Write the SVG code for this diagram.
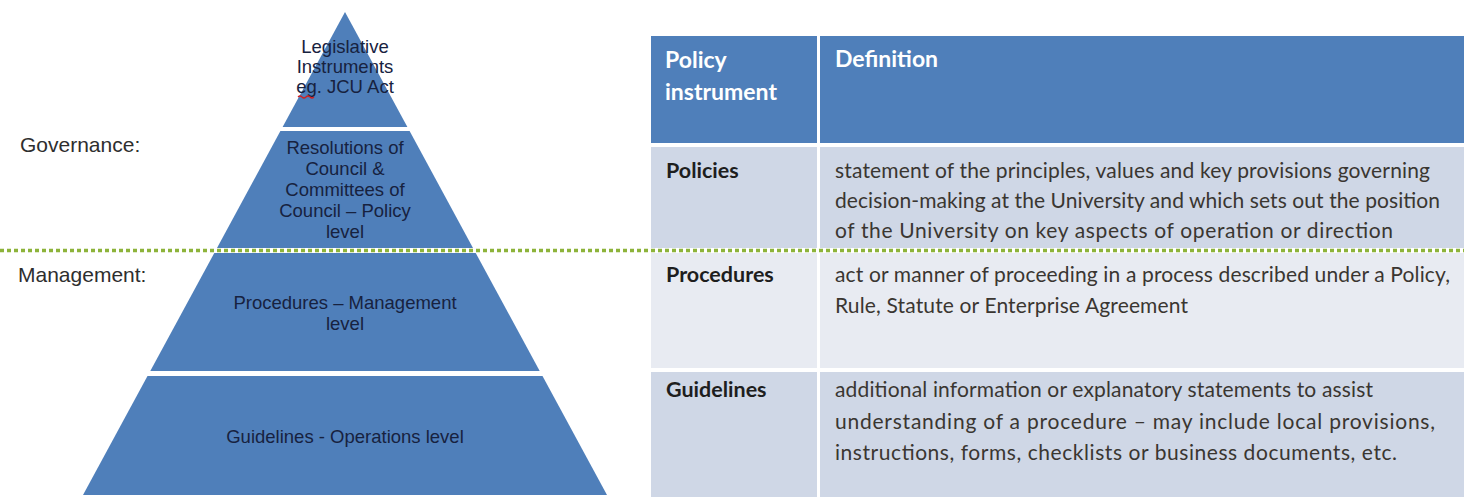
<svg xmlns="http://www.w3.org/2000/svg" width="1464" height="497" viewBox="0 0 1464 497">
<style>
.pyr{fill:#4F7FBA}
.pt{font-family:"Liberation Sans",Arial,sans-serif;font-size:18.5px;fill:#17223F;text-anchor:middle}
.lbl{font-family:"Liberation Sans",Arial,sans-serif;font-size:21px;fill:#2E2E2E}
.hdr{fill:#4F7FBA}
.rowA{fill:#CFD7E6}
.rowB{fill:#E8EBF2}
.ht{font-family:Lato,"Open Sans",sans-serif;font-size:23px;font-weight:bold;fill:#FFFFFF}
.kt{font-family:Lato,"Open Sans",sans-serif;font-size:21.5px;font-weight:bold;fill:#1E1E1E}
.dt{font-family:Lato,"Open Sans",sans-serif;font-size:21px;fill:#3A3631}
</style>
<rect width="1464" height="497" fill="#FFFFFF"/>

<g id="pyramid-legislative">
<polygon class="pyr" points="345,12 407.4,127 282.6,127"/>
<text class="pt" x="345" y="53">Legislative</text>
<text class="pt" x="345" y="73">Instruments</text>
<text class="pt" x="345" y="93">eg. JCU  Act</text>
<path d="M298,97 q2,-2 4,0 t4,0 t4,0 t4,0" fill="none" stroke="#D02020" stroke-width="1.2"/>
</g>

<g id="pyramid-resolutions">
<polygon class="pyr" points="280.4,131 409.6,131 473,248 217,248"/>
<text class="pt" x="345" y="154">Resolutions of</text>
<text class="pt" x="345" y="175">Council &amp;</text>
<text class="pt" x="345" y="196">Committees  of</text>
<text class="pt" x="345" y="217">Council – Policy</text>
<text class="pt" x="345" y="238">level</text>
</g>

<g id="pyramid-procedures">
<polygon class="pyr" points="214.3,253 475.7,253 539.7,371 150.3,371"/>
<text class="pt" x="345" y="309">Procedures – Management</text>
<text class="pt" x="345" y="330">level</text>
</g>

<g id="pyramid-guidelines">
<polygon class="pyr" points="147.5,376 542.5,376 607,495 83,495"/>
<text class="pt" x="345" y="443">Guidelines - Operations level</text>
</g>

<g id="label-governance">
<text class="lbl" x="20" y="152">Governance:</text>
</g>
<g id="label-management">
<text class="lbl" x="18" y="282">Management:</text>
</g>

<g id="table">
<g id="table-header">
<rect class="hdr" x="651" y="36" width="166" height="107"/>
<rect class="hdr" x="820" y="36" width="644" height="107"/>
<text class="ht" x="665" y="68">Policy</text>
<text class="ht" x="665" y="100">instrument</text>
<text class="ht" x="835" y="67">Definition</text>
</g>
<g id="row-policies">
<rect class="rowA" x="651" y="147" width="166" height="101"/>
<rect class="rowA" x="820" y="147" width="644" height="101"/>
<text class="kt" x="666" y="178">Policies</text>
<text class="dt" x="835" y="178" textLength="595" lengthAdjust="spacing">statement of the principles, values and key provisions governing</text>
<text class="dt" x="835" y="208" textLength="605" lengthAdjust="spacing">decision-making at the University and which sets out the position</text>
<text class="dt" x="835" y="238" textLength="558" lengthAdjust="spacing">of the University on key aspects of operation or direction</text>
</g>
<g id="row-procedures">
<rect class="rowB" x="651" y="253" width="166" height="115"/>
<rect class="rowB" x="820" y="253" width="644" height="115"/>
<text class="kt" x="666" y="282">Procedures</text>
<text class="dt" x="835" y="282" textLength="615" lengthAdjust="spacing">act or manner of proceeding in a process described under a Policy,</text>
<text class="dt" x="835" y="313" textLength="353" lengthAdjust="spacing">Rule, Statute or Enterprise Agreement</text>
</g>
<g id="row-guidelines">
<rect class="rowA" x="651" y="372" width="166" height="125"/>
<rect class="rowA" x="820" y="372" width="644" height="125"/>
<text class="kt" x="666" y="397">Guidelines</text>
<text class="dt" x="835" y="397" textLength="538" lengthAdjust="spacing">additional information or explanatory statements to assist</text>
<text class="dt" x="835" y="429" textLength="600" lengthAdjust="spacing">understanding of a procedure – may include local provisions,</text>
<text class="dt" x="835" y="460" textLength="562" lengthAdjust="spacing">instructions, forms, checklists or business documents, etc.</text>
</g>
</g>

<g id="connectors">
<line x1="0" y1="250.5" x2="1464" y2="250.5" stroke="#8DB33A" stroke-width="3.5" stroke-dasharray="4 3"/>
</g>
</svg>
